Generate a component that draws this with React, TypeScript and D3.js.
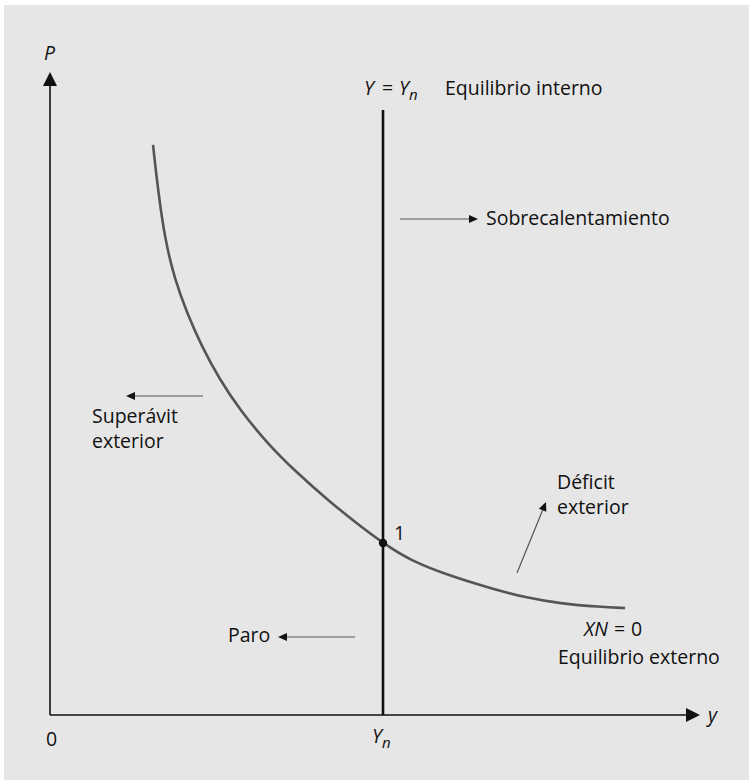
import React from "react";
import * as d3 from "d3";

// Abstract units: Y (output) 0..100, P (price) 0..100
const curveY = [15.73, 16.49, 17.56, 19.08, 20.92, 23.21, 25.95, 29.01, 33.13, 37.71, 42.75, 46.87, 50.84, 54.96, 61.07, 67.63, 72.52, 77.86, 83.97, 87.79];
const curveP = [88.65, 81.65, 73.87, 67.65, 62.52, 57.23, 52.10, 47.43, 42.30, 37.64, 33.13, 29.78, 26.75, 24.03, 21.62, 19.60, 18.27, 17.34, 16.80, 16.64];
const Yn = 50.84;
const Pn = 26.75;
const verticalTop = 94.1;

const W = 749;
const H = 780;
const FONT = "'Open Sans', 'Noto Sans', sans-serif";

export default function App() {
  const x = d3.scaleLinear().domain([0, 100]).range([50, 705]);
  const y = d3.scaleLinear().domain([0, 100]).range([715, 72]);
  const pts: [number, number][] = curveY.map((v, i) => [v, curveP[i]]);
  const line = d3
    .line<[number, number]>()
    .x((d) => x(d[0]))
    .y((d) => y(d[1]))
    .curve(d3.curveBasis);

  const ink = "#111";
  const gray = "#555";
  const fs = 19.5;
  const sub = 15;

  const arrow = (x1: number, y1: number, x2: number, y2: number, key: string) => {
    const ang = Math.atan2(y2 - y1, x2 - x1);
    const L = 9, Wd = 4;
    const bx = x2 - L * Math.cos(ang);
    const by = y2 - L * Math.sin(ang);
    const px = -Math.sin(ang) * Wd;
    const py = Math.cos(ang) * Wd;
    return (
      <g key={key}>
        <line x1={x1} y1={y1} x2={bx} y2={by} stroke={gray} strokeWidth={1.2} />
        <path d={`M${x2},${y2}L${bx + px},${by + py}L${bx - px},${by - py}Z`} fill={ink} />
      </g>
    );
  };

  return (
    <svg width={W} height={H} style={{ position: "absolute", left: 0, top: 0 }} fontFamily={FONT}>
      <rect x={4} y={5} width={W - 4} height={H - 5} fill="#e6e6e6" />
      {/* axes */}
      <line x1={x(0)} y1={y(0)} x2={x(0)} y2={y(100) + 12} stroke={ink} strokeWidth={1.6} />
      <path d={`M${x(0)},${y(100)}L${x(0) - 7},${y(100) + 14}L${x(0) + 7},${y(100) + 14}Z`} fill={ink} />
      <line x1={x(0)} y1={y(0)} x2={x(100) - 12} y2={y(0)} stroke={ink} strokeWidth={1.6} />
      <path d={`M${x(100) - 5},${y(0)}L${x(100) - 19},${y(0) - 7}L${x(100) - 19},${y(0) + 7}Z`} fill={ink} />
      <text x={44} y={60} fontSize={fs} fontStyle="italic" fill={ink}>P</text>
      <text x={708} y={722} fontSize={fs} fontStyle="italic" fill={ink}>y</text>
      <text x={46} y={746} fontSize={fs} fill={ink}>0</text>
      <text x={x(Yn) - 11} y={743} fontSize={fs} fontStyle="italic" fill={ink}>
        Y<tspan fontSize={sub} dy={5}>n</tspan>
      </text>

      {/* internal equilibrium vertical */}
      <line x1={x(Yn)} y1={y(0)} x2={x(Yn)} y2={y(verticalTop)} stroke={ink} strokeWidth={2.6} />
      <text x={364} y={95} fontSize={fs} fontStyle="italic" fill={ink}>Y</text>
      <text x={382} y={95} fontSize={fs} fill={ink}>=</text>
      <text x={399} y={95} fontSize={fs} fontStyle="italic" fill={ink}>
        Y<tspan fontSize={sub} dy={5}>n</tspan>
      </text>
      <text x={445} y={95} fontSize={fs} fill={ink}>Equilibrio interno</text>

      {/* external equilibrium curve */}
      <path d={line(pts) || ""} fill="none" stroke={gray} strokeWidth={2.6} />
      <circle cx={x(Yn)} cy={y(Pn)} r={4.2} fill={ink} />
      <text x={394} y={540} fontSize={fs} fill={ink}>1</text>

      {/* annotations */}
      {arrow(400, 219, 478, 219, "a1")}
      <text x={486} y={225} fontSize={fs} fill={ink}>Sobrecalentamiento</text>

      {arrow(203, 396, 126, 396, "a2")}
      <text x={92} y={423} fontSize={fs} fill={ink}>Superávit</text>
      <text x={92} y={448} fontSize={fs} fill={ink}>exterior</text>

      {arrow(517, 573, 546, 502, "a3")}
      <text x={557} y={489} fontSize={fs} fill={ink}>Déficit</text>
      <text x={557} y={514} fontSize={fs} fill={ink}>exterior</text>

      {arrow(355, 637, 278, 637, "a4")}
      <text x={228} y={642} fontSize={fs} fill={ink}>Paro</text>

      <text x={584} y={636} fontSize={fs} fontStyle="italic" fill={ink}>XN</text>
      <text x={614} y={636} fontSize={fs} fill={ink}>=</text>
      <text x={631} y={636} fontSize={fs} fill={ink}>0</text>
      <text x={558} y={664} fontSize={fs} fill={ink}>Equilibrio externo</text>
    </svg>
  );
}
